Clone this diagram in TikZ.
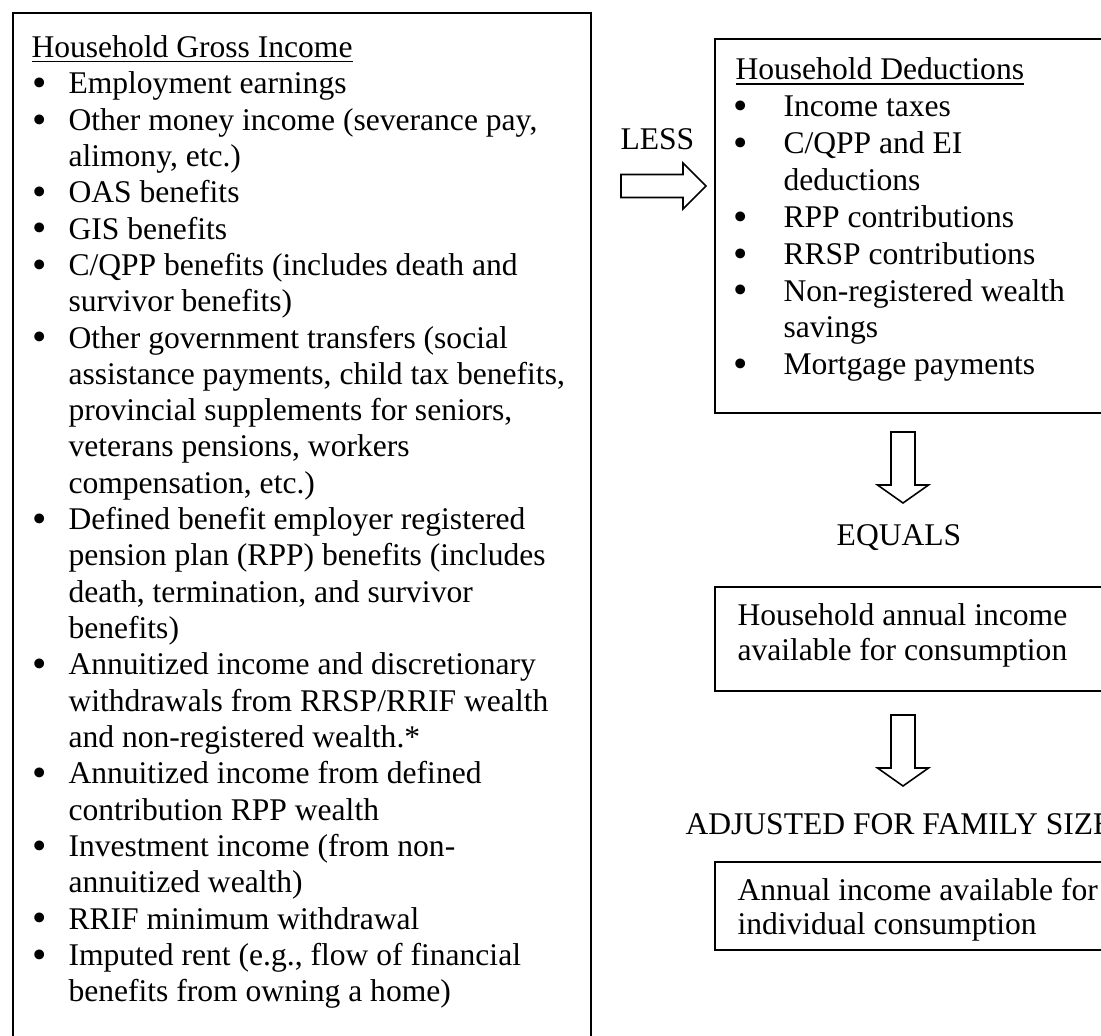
\documentclass[tikz,border=0pt]{standalone}
\usepackage{fontspec}
\setmainfont{Liberation Serif}
\usepackage{graphicx}
\newcommand\bul[1]{\hspace*{#1}\smash{\raisebox{-1.1pt}{\scalebox{1.3}{\textbullet}}}}
\tikzset{
  frame/.style={line width=1pt},
  txt/.style={inner sep=0pt, anchor=base west, font=\fontsize{12}{13.8}\selectfont},
  boxtxt/.style={txt, font=\fontsize{12}{13.1}\selectfont},
  pics/arrowdown/.style={code={
    \draw[line width=0.6pt] (-12,0) -- (12,0) -- (12,53) -- (25.5,53)
      -- (0,71) -- (-25.5,53) -- (-12,53) -- cycle;}},
  pics/arrowright/.style={code={
    \draw[line width=0.6pt] (0,-11.5) -- (62,-11.5) -- (62,-23) -- (85,0)
      -- (62,23) -- (62,11.5) -- (0,11.5) -- cycle;}}
}
\begin{document}
\begin{tikzpicture}[x=0.38pt,y=-0.38pt]
\clip (0,0) rectangle (1101,1036);
\fill[white] (0,0) rectangle (1101,1036);
% frames
\draw[frame] (13,13) rectangle (591,1060);
\draw[frame] (715,39) rectangle (1120,413);
\draw[frame] (715,587) rectangle (1120,691);
\draw[frame] (715,862) rectangle (1120,950);
% gross income list
\node (gross) [txt] at (31,57.5) {\begin{tabular}[t]{@{}p{14.06pt}@{}l@{}}
\multicolumn{2}{@{}l@{}}{\underline{Household Gross Income}}\\
\bul{0.3pt} & Employment earnings\\
\bul{0.3pt} & Other money income (severance pay,\\
 & alimony, etc.)\\
\bul{0.3pt} & OAS benefits\\
\bul{0.3pt} & GIS benefits\\
\bul{0.3pt} & C/QPP benefits (includes death and\\
 & survivor benefits)\\
\bul{0.3pt} & Other government transfers (social\\
 & assistance payments, child tax benefits,\\
 & provincial supplements for seniors,\\
 & veterans pensions, workers\\
 & compensation, etc.)\\
\bul{0.3pt} & Defined benefit employer registered\\
 & pension plan (RPP) benefits (includes\\
 & death, termination, and survivor\\
 & benefits)\\
\bul{0.3pt} & Annuitized income and discretionary\\
 & withdrawals from RRSP/RRIF wealth\\
 & and non-registered wealth.*\\
\bul{0.3pt} & Annuitized income from defined\\
 & contribution RPP wealth\\
\bul{0.3pt} & Investment income (from non-\\
 & annuitized wealth)\\
\bul{0.3pt} & RRIF minimum withdrawal\\
\bul{0.3pt} & Imputed rent (e.g., flow of financial\\
 & benefits from owning a home)
\end{tabular}};
% deductions list
\node (deductions) [txt, font=\fontsize{12}{14}\selectfont] at (735,80) {\begin{tabular}[t]{@{}p{18.24pt}@{}l@{}}
\multicolumn{2}{@{}l@{}}{\underline{Household Deductions}}\\
\bul{-0.8pt} & Income taxes\\
\bul{-0.8pt} & C/QPP and EI\\
 & deductions\\
\bul{-0.8pt} & RPP contributions\\
\bul{-0.8pt} & RRSP contributions\\
\bul{-0.8pt} & Non-registered wealth\\
 & savings\\
\bul{-0.8pt} & Mortgage payments
\end{tabular}};
\node (available) [boxtxt] at (737,626) {\begin{tabular}[t]{@{}l@{}}
Household annual income\\
available for consumption
\end{tabular}};
\node (individual) [boxtxt] at (737,900) {\begin{tabular}[t]{@{}l@{}}
Annual income available for\\
individual consumption
\end{tabular}};
% labels between the steps
\node (less) [txt] at (620,150) {LESS};
\node (equals) [txt, anchor=base] at (899,545) {EQUALS};
\node (adjusted) [txt, anchor=base] at (899,834) {ADJUSTED FOR FAMILY SIZE};
% block arrows
\coordinate (lessarrow) at (621,186);
\coordinate (equalsarrow) at (903,432);
\coordinate (adjustarrow) at (903,715);
\pic at (lessarrow) {arrowright};
\pic at (equalsarrow) {arrowdown};
\pic at (adjustarrow) {arrowdown};
\end{tikzpicture}
\end{document}
